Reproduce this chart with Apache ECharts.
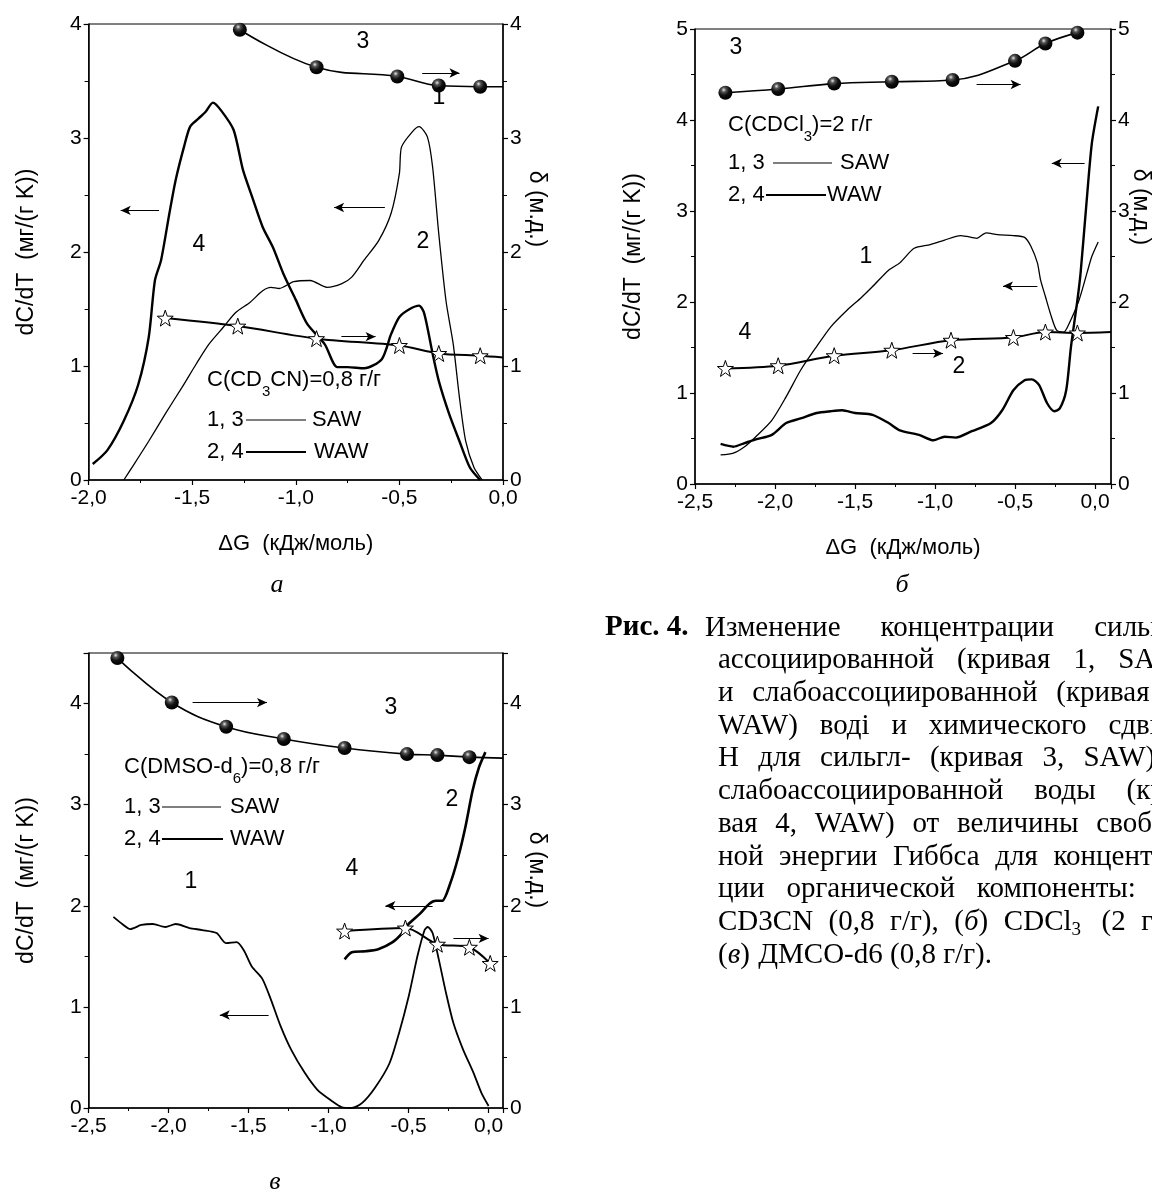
<!DOCTYPE html>
<html>
<head>
<meta charset="utf-8">
<script src="https://cdn.jsdelivr.net/npm/echarts@6/dist/echarts.min.js"></script>
<style>
html, body {margin: 0; padding: 0; background: #fff;}
#main {width: 1152px; height: 1191px;}
</style>
</head>
<body>
<div id="main"></div>
<script>
// ---- panel a: CD3CN 0,8 г/г ----
var aSawX = [-1.83, -1.78, -1.71, -1.63, -1.55, -1.48, -1.42, -1.35, -1.29, -1.22, -1.16, -1.12, -1.08, -1.01, -0.93, -0.85, -0.78, -0.73, -0.67, -0.60, -0.54, -0.50, -0.49, -0.44, -0.405, -0.365, -0.34, -0.31, -0.275, -0.24, -0.21, -0.18, -0.14, -0.10];
var aSawY = [0, 0.14, 0.34, 0.58, 0.81, 1.02, 1.19, 1.34, 1.47, 1.56, 1.66, 1.69, 1.68, 1.74, 1.75, 1.69, 1.72, 1.78, 1.93, 2.10, 2.34, 2.69, 2.92, 3.05, 3.10, 3.01, 2.75, 2.16, 1.57, 1.19, 0.72, 0.34, 0.11, 0];
var aWawX = [-1.98, -1.91, -1.83, -1.76, -1.71, -1.68, -1.65, -1.61, -1.58, -1.54, -1.51, -1.47, -1.435, -1.40, -1.36, -1.30, -1.255, -1.21, -1.16, -1.11, -1.06, -1.00, -0.945, -0.86, -0.80, -0.75, -0.67, -0.585, -0.54, -0.50, -0.45, -0.405, -0.38, -0.34, -0.31, -0.26, -0.21, -0.16, -0.11];
var aWawY = [0.14, 0.26, 0.52, 0.84, 1.25, 1.75, 1.93, 2.34, 2.63, 2.92, 3.10, 3.17, 3.23, 3.31, 3.24, 3.07, 2.72, 2.48, 2.22, 2.04, 1.81, 1.58, 1.37, 1.19, 0.99, 0.99, 0.98, 1.06, 1.28, 1.43, 1.50, 1.53, 1.46, 1.11, 0.87, 0.58, 0.34, 0.11, 0];
var aSawShiftX = [-1.27, -0.90, -0.51, -0.31, -0.11];
var aSawShiftY = [3.95, 3.62, 3.54, 3.46, 3.45];
var aSawShiftEnd = [0, 3.45];
var aWawShiftX = [-1.63, -1.28, -0.90, -0.50, -0.31, -0.11];
var aWawShiftY = [1.42, 1.35, 1.24, 1.18, 1.11, 1.09];
var aWawShiftEnd = [0, 1.075];

// ---- panel б: CDCl3 2 г/г ----
var bSawX = [-2.34, -2.26, -2.19, -2.12, -2.02, -1.93, -1.84, -1.74, -1.65, -1.55, -1.46, -1.39, -1.29, -1.22, -1.13, -1.03, -0.94, -0.84, -0.80, -0.74, -0.68, -0.61, -0.51, -0.44, -0.40, -0.36, -0.34, -0.31, -0.28, -0.24, -0.195, -0.16, -0.10, -0.05, -0.02, 0.02];
var bSawY = [0.32, 0.34, 0.41, 0.52, 0.70, 0.96, 1.25, 1.51, 1.73, 1.91, 2.05, 2.17, 2.35, 2.43, 2.59, 2.63, 2.68, 2.73, 2.72, 2.70, 2.76, 2.74, 2.73, 2.71, 2.61, 2.43, 2.24, 2.06, 1.88, 1.69, 1.67, 1.77, 2.02, 2.32, 2.50, 2.66];
var bWawX = [-2.34, -2.26, -2.19, -2.12, -2.02, -1.93, -1.84, -1.74, -1.65, -1.58, -1.50, -1.39, -1.29, -1.22, -1.10, -1.01, -0.94, -0.87, -0.77, -0.65, -0.58, -0.51, -0.44, -0.395, -0.35, -0.30, -0.255, -0.22, -0.18, -0.15, -0.11, -0.09, -0.055, -0.02, 0.02];
var bWawY = [0.44, 0.41, 0.45, 0.49, 0.54, 0.67, 0.72, 0.78, 0.80, 0.81, 0.78, 0.76, 0.67, 0.59, 0.54, 0.48, 0.52, 0.51, 0.58, 0.67, 0.81, 1.03, 1.14, 1.15, 1.09, 0.89, 0.80, 0.83, 1.03, 1.51, 2.02, 2.32, 3.05, 3.74, 4.15];
var bSawShiftX = [-2.31, -1.98, -1.63, -1.27, -0.89, -0.50, -0.31, -0.11];
var bSawShiftY = [4.30, 4.34, 4.40, 4.42, 4.44, 4.65, 4.84, 4.96];
var bWawShiftX = [-2.31, -1.98, -1.63, -1.27, -0.90, -0.51, -0.31, -0.11];
var bWawShiftY = [1.27, 1.30, 1.41, 1.47, 1.58, 1.61, 1.67, 1.66];
var bWawShiftEnd = [0.1, 1.67];

// ---- panel в: DMSO-d6 0,8 г/г ----
var cSawX = [-2.345, -2.29, -2.24, -2.17, -2.10, -2.02, -1.955, -1.87, -1.79, -1.70, -1.64, -1.575, -1.53, -1.48, -1.415, -1.36, -1.30, -1.235, -1.15, -1.07, -0.98, -0.92, -0.855, -0.79, -0.71, -0.62, -0.56, -0.50, -0.445, -0.40, -0.38, -0.35, -0.31, -0.265, -0.22, -0.16, -0.095, -0.045, 0.0];
var cSawY = [1.89, 1.82, 1.77, 1.81, 1.82, 1.79, 1.82, 1.78, 1.76, 1.73, 1.63, 1.64, 1.56, 1.40, 1.28, 1.07, 0.81, 0.58, 0.35, 0.18, 0.07, 0.01, 0, 0.05, 0.20, 0.44, 0.74, 1.10, 1.50, 1.76, 1.79, 1.73, 1.46, 1.13, 0.84, 0.58, 0.35, 0.15, 0.02];
var cWawX = [-0.90, -0.855, -0.77, -0.69, -0.60, -0.54, -0.50, -0.43, -0.37, -0.33, -0.29, -0.24, -0.19, -0.145, -0.10, -0.06, -0.02];
var cWawY = [1.47, 1.54, 1.55, 1.57, 1.64, 1.73, 1.82, 1.92, 2.02, 2.05, 2.05, 2.22, 2.48, 2.78, 3.14, 3.37, 3.52];
var cSawShiftX = [-2.32, -1.98, -1.64, -1.28, -0.90, -0.51, -0.32, -0.12];
var cSawShiftY = [4.45, 4.01, 3.77, 3.65, 3.56, 3.50, 3.49, 3.47];
var cSawShiftEnd = [0.09, 3.46];
var cWawShiftX = [-0.90, -0.52, -0.32, -0.12, 0.01];
var cWawShiftY = [1.75, 1.78, 1.62, 1.59, 1.43];

// arrows [x1, y1, x2, y2] in axis units, head at (x2, y2)
var aArrows = [[-0.39, 3.57, -0.21, 3.57], [-1.66, 2.365, -1.845, 2.365], [-0.57, 2.39, -0.815, 2.39], [-0.78, 1.257, -0.615, 1.257]];
var bArrows = [[-0.74, 4.39, -0.465, 4.39], [-0.065, 3.525, -0.27, 3.525], [-0.36, 2.175, -0.575, 2.175], [-1.14, 1.435, -0.95, 1.435]];
var cArrows = [[-1.85, 4.01, -1.385, 4.01], [-0.35, 2.0, -0.645, 2.0], [-1.375, 0.92, -1.68, 0.92], [-0.22, 1.677, 0.0, 1.677]];

// caption lines (justified, the page is cut at the right edge)
var capLines = [
    'Изменение концентрации сильно-',
    'ассоциированной (кривая 1, SAW)',
    'и слабоассоциированной (кривая 2,',
    'WAW) воді и химического сдвига',
    'Н для сильгл- (кривая 3, SAW) и',
    'слабоассоциированной воды (кри-',
    'вая 4, WAW) от величины свобод-',
    'ной энергии Гиббса для концентра-',
    'ции органической компоненты: (а)',
    'CD3CN (0,8 г/г), ({i|б}) CDCl{s|3} (2 г/г),',
    '({i|в}) ДМСО-d6 (0,8 г/г).'
];

var SANS = '"Liberation Sans", Arial, sans-serif';
var SERIF = '"Liberation Serif", "Times New Roman", serif';

var chart = echarts.init(document.getElementById('main'));

function pairs(xs, ys, end) {
    var d = xs.map(function (x, i) { return [x, ys[i]]; });
    if (end) d.push({value: end, symbol: 'none'});
    return d;
}

function comma(v) {
    return v.toFixed(1).replace('.', ',');
}

function xAxis(grid, min, max, lastLabel, withName) {
    return {
        type: 'value', gridIndex: grid, min: min, max: max, interval: 0.5,
        name: withName ? 'ΔG  (кДж/моль)' : '', nameLocation: 'middle', nameGap: 53,
        nameTextStyle: {fontFamily: SANS, fontSize: 22, color: '#000'},
        axisLine: {onZero: false, lineStyle: {color: '#000', width: 1.5}},
        axisTick: {length: 5, lineStyle: {color: '#000', width: 1.2}},
        minorTick: {show: true, splitNumber: 2, length: 3, lineStyle: {color: '#000', width: 1}},
        splitLine: {show: false},
        axisLabel: {fontFamily: SANS, fontSize: 21, color: '#000', margin: 8,
            showMinLabel: true, showMaxLabel: lastLabel, formatter: comma}
    };
}

function yAxis(grid, max, right, gap) {
    return {
        type: 'value', gridIndex: grid, min: 0, max: max, interval: 1, position: right ? 'right' : 'left',
        name: right ? '' : 'dC/dT  (мг/(г K))', nameLocation: 'middle', nameRotate: 90, nameGap: gap,
        nameTextStyle: {fontFamily: SANS, fontSize: 23, color: '#000'},
        axisLine: {show: true, onZero: false, lineStyle: {color: '#000', width: 1.5}},
        axisTick: {length: 5, lineStyle: {color: '#000', width: 1.2}},
        minorTick: {show: true, splitNumber: 2, length: 4, lineStyle: {color: '#000', width: 1}},
        splitLine: {show: false},
        axisLabel: {fontFamily: SANS, fontSize: 21, color: '#000', margin: 7,
            showMinLabel: true, showMaxLabel: max % 1 === 0,
            formatter: function (v) { return String(v); }}
    };
}

function curve(grid, data, width, arrows) {
    return {
        type: 'line', xAxisIndex: grid, yAxisIndex: grid * 2, data: data,
        symbol: 'none', smooth: 0.25, silent: true, animation: false,
        lineStyle: {color: '#000', width: width},
        markLine: arrows ? {
            silent: true, animation: false, symbol: ['none', 'arrow'], symbolSize: [7, 10],
            label: {show: false},
            lineStyle: {color: '#000', width: 1, type: 'solid'},
            data: arrows.map(function (a) { return [{coord: [a[0], a[1]]}, {coord: [a[2], a[3]]}]; })
        } : undefined
    };
}

var ball = new echarts.graphic.RadialGradient(0.38, 0.3, 0.65, [
    {offset: 0, color: '#e8e8e8'}, {offset: 0.25, color: '#555'}, {offset: 0.6, color: '#111'}, {offset: 1, color: '#000'}
]);
var starPath = 'path://M0,-10L2.35,-3.24L9.51,-3.09L3.8,1.24L5.88,8.09L0,4L-5.88,8.09L-3.8,1.24L-9.51,-3.09L-2.35,-3.24Z';

function balls(grid, data) {
    return {
        type: 'line', xAxisIndex: grid, yAxisIndex: grid * 2 + 1, data: data,
        symbol: 'circle', symbolSize: 14, showSymbol: true, showAllSymbol: true,
        smooth: 0.4, silent: true, animation: false, z: 4,
        lineStyle: {color: '#000', width: 1.6},
        itemStyle: {color: ball, borderWidth: 0}
    };
}

function stars(grid, data) {
    return {
        type: 'line', xAxisIndex: grid, yAxisIndex: grid * 2 + 1, data: data,
        symbol: starPath, symbolSize: 16, showSymbol: true, showAllSymbol: true,
        smooth: 0.3, silent: true, animation: false, z: 4,
        lineStyle: {color: '#000', width: 2},
        itemStyle: {color: '#fff', borderColor: '#000', borderWidth: 1}
    };
}

function txt(s, x, y, opts) {
    opts = opts || {};
    return {
        type: 'text', x: x, y: y, rotation: opts.rot || 0, z: 10, silent: true,
        style: {
            text: s, fill: '#000', fontFamily: opts.family || SANS, fontSize: opts.size || 22,
            fontStyle: opts.italic ? 'italic' : 'normal', fontWeight: opts.bold ? 'bold' : 'normal',
            align: opts.align || 'center', verticalAlign: 'middle',
            lineHeight: opts.lh, rich: opts.rich
        }
    };
}

function seg(x1, x2, y, w) {
    return {type: 'line', z: 10, silent: true, shape: {x1: x1, y1: y, x2: x2, y2: y}, style: {stroke: '#000', lineWidth: w}};
}

var subRich = {s: {fontFamily: SANS, fontSize: 15, lineHeight: 15, verticalAlign: 'bottom'}};

function legendBlock(x, yConc, conc, row1, row2) {
    return [
        txt(conc, x, yConc, {align: 'left', lh: 38, rich: subRich}),
        txt('1, 3', x, row1[0], {align: 'left'}),
        seg(row1[1], row1[2], row1[0], 1.2),
        txt('SAW', row1[3], row1[0], {align: 'left'}),
        txt('2, 4', x, row2[0], {align: 'left'}),
        seg(row2[1], row2[2], row2[0], 2.2),
        txt('WAW', row2[3], row2[0], {align: 'left'})
    ];
}

var graphics = [];
// curve numbers
[['3', 363, 42], ['1', 439, 98], ['4', 199, 245], ['2', 423, 242],
 ['3', 736, 48], ['1', 866, 257], ['4', 745, 333], ['2', 959, 367],
 ['3', 391, 708], ['1', 191, 882], ['4', 352, 869], ['2', 452, 800]].forEach(function (t) {
    graphics.push(txt(t[0], t[1], t[2], {size: 23}));
});
graphics = graphics.concat(
    legendBlock(207, 380, 'C(CD{s|3}CN)=0,8 г/г', [420, 246, 306, 312], [452, 246, 306, 314]),
    legendBlock(728, 125, 'C(CDCl{s|3})=2 г/г', [163, 773, 832, 840], [195, 766, 826, 827]),
    legendBlock(124, 767, 'C(DMSO-d{s|6})=0,8 г/г', [807, 162, 221, 230], [839, 162, 223, 230])
);
// right axis titles
graphics.push(txt('δ (м.д.)', 536, 209, {rot: -Math.PI / 2, size: 23}));
graphics.push(txt('δ (м.д.)', 1140, 207, {rot: -Math.PI / 2, size: 23}));
graphics.push(txt('δ (м.д.)', 536, 870, {rot: -Math.PI / 2, size: 23}));
// panel letters
graphics.push(txt('а', 277, 585, {family: SERIF, size: 26, italic: true}));
graphics.push(txt('б', 902, 585, {family: SERIF, size: 26, italic: true}));
graphics.push(txt('в', 275, 1182, {family: SERIF, size: 26, italic: true}));

// caption: justified words between the indent and a right margin beyond the page edge
var CAP_SIZE = 29;
var capFont = CAP_SIZE + 'px ' + SERIF;
var capRich = {
    i: {fontFamily: SERIF, fontSize: CAP_SIZE, fontStyle: 'italic', lineHeight: 34},
    s: {fontFamily: SERIF, fontSize: 19, lineHeight: 19, verticalAlign: 'bottom'}
};
var ctx = document.createElement('canvas').getContext('2d');
ctx.font = capFont;
function wordWidth(w) {
    return ctx.measureText(w.replace(/\{[is]\|([^}]*)\}/g, '$1')).width;
}
var capRight = 1190;
graphics.push(txt('Рис. 4.', 605, 628, {family: SERIF, size: CAP_SIZE, bold: true, align: 'left'}));
capLines.forEach(function (line, i) {
    var words = line.split(' ');
    var x0 = i === 0 ? 705 : 718;
    var y = 628 + i * 32.7;
    var widths = words.map(wordWidth);
    var total = widths.reduce(function (s, w) { return s + w; }, 0);
    var last = i === capLines.length - 1;
    var gap = last ? ctx.measureText(' ').width : (capRight - x0 - total) / (words.length - 1);
    var x = x0;
    words.forEach(function (w, k) {
        graphics.push(txt(w, x, y, {family: SERIF, size: CAP_SIZE, align: 'left', lh: 34, rich: capRich}));
        x += widths[k] + gap;
    });
});

var option = {
    backgroundColor: '#fff',
    animation: false,
    grid: [
        {left: 88.6, top: 24, width: 414.4, height: 456, show: true, borderColor: '#000', borderWidth: 1},
        {left: 695, top: 29, width: 416, height: 455, show: true, borderColor: '#000', borderWidth: 1},
        {left: 88.6, top: 653, width: 414.4, height: 455, show: true, borderColor: '#000', borderWidth: 1}
    ],
    xAxis: [
        xAxis(0, -2, 0, true, true),
        xAxis(1, -2.5, 0.1, false, true),
        xAxis(2, -2.5, 0.09, false, false)
    ],
    yAxis: [
        yAxis(0, 4, false, 50), yAxis(0, 4, true, 30),
        yAxis(1, 5, false, 50), yAxis(1, 5, true, 30),
        yAxis(2, 4.5, false, 50), yAxis(2, 4.5, true, 30)
    ],
    series: [
        curve(0, pairs(aSawX, aSawY), 1.3, aArrows),
        curve(0, pairs(aWawX, aWawY), 2.4),
        balls(0, pairs(aSawShiftX, aSawShiftY, aSawShiftEnd)),
        stars(0, pairs(aWawShiftX, aWawShiftY, aWawShiftEnd)),

        curve(1, pairs(bSawX, bSawY), 1.3, bArrows),
        curve(1, pairs(bWawX, bWawY), 2.4),
        balls(1, pairs(bSawShiftX, bSawShiftY)),
        stars(1, pairs(bWawShiftX, bWawShiftY, bWawShiftEnd)),

        curve(2, pairs(cSawX, cSawY), 1.8, cArrows),
        curve(2, pairs(cWawX, cWawY), 2.6),
        balls(2, pairs(cSawShiftX, cSawShiftY, cSawShiftEnd)),
        stars(2, pairs(cWawShiftX, cWawShiftY))
    ],
    graphic: graphics
};

chart.setOption(option);
</script>
</body>
</html>
